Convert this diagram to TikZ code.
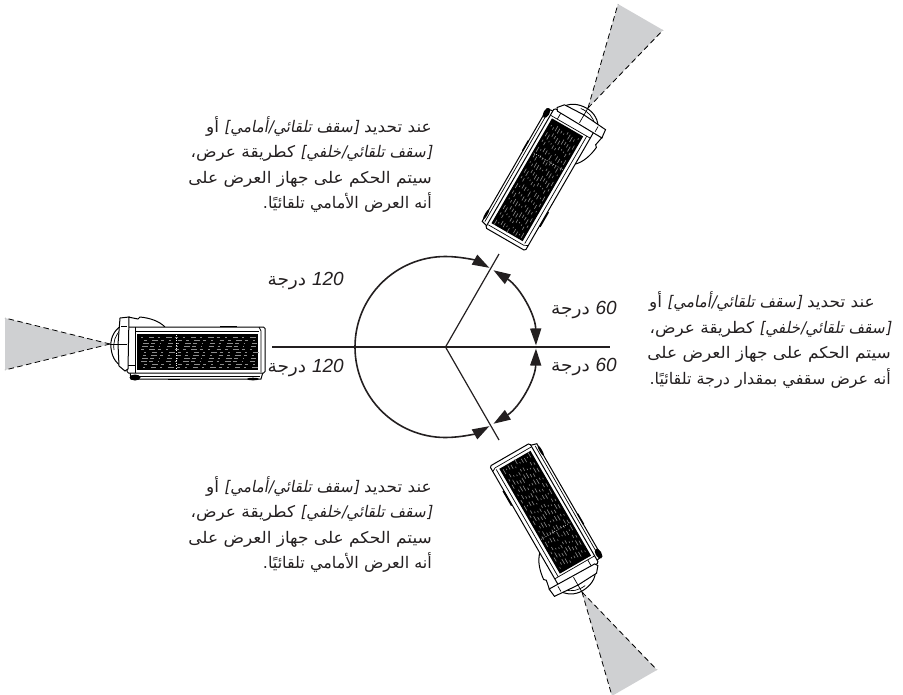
\documentclass[tikz,border=0pt]{standalone}
\usepackage{fontspec}
\usetikzlibrary{arrows.meta}
\TeXXeTstate=1
\setmainfont{Liberation Sans}
\newfontfamily\arabicfont[Script=Arabic,FakeStretch=1.06]{DejaVu Sans}
\newfontfamily\arabicnarrow[Script=Arabic,FakeStretch=1.0]{DejaVu Sans}
\newfontfamily\arabicit[Script=Arabic,FakeStretch=0.95,FakeSlant=0.18]{DejaVu Sans}
\newcommand{\arl}[1]{\beginR #1\endR}
\newcommand{\arn}[1]{{\arabicnarrow\fontsize{16}{25.5}\selectfont\beginR #1\endR}}
\newcommand{\ait}[1]{{\arabicit\fontsize{16}{25.5}\selectfont #1}}
\newcommand{\deglabel}[1]{\arabicfont\beginR\beginL{\normalfont\itshape\fontsize{19}{20}\selectfont #1}\endL\ درجة\endR}
\definecolor{cone}{HTML}{CFD0D2}
\definecolor{ink}{HTML}{231F20}
\tikzset{
 note/.style={font=\arabicfont\fontsize{16}{25.6}\selectfont,align=right,anchor=east,inner sep=0pt,text=ink},
 anglabel/.style={font=\fontsize{17.5}{20}\selectfont,inner sep=0pt,text=ink},
 axis/.style={draw=ink,line width=1.2pt},
 arcline/.style={draw=ink,line width=1.6pt},
 tip/.style={-{Triangle[length=17pt,width=11pt]}},
 bitip/.style={{Triangle[length=17pt,width=11pt]}-{Triangle[length=17pt,width=11pt]}},
 shell/.style={draw=black,line width=1pt,fill=white},
 thin shell/.style={draw=black,line width=.7pt},
 ray/.style={draw=black,line width=.8pt,dash pattern=on 5.5pt off 3.5pt},
 gmark/.style={draw=black!45,line width=.6pt},
}
\newcommand{\projector}{%
 % cone
 \fill[cone] (110,-344) -- (5,-318) -- (5,-370) -- cycle;
 \draw[ray] (110,-344) -- (5,-318);
 \draw[ray] (110,-344) -- (5,-370);
 % lens dome
 \draw[shell] (121,-326) .. controls (113,-331) and (110,-340) .. (111,-348) .. controls (112,-358) and (117,-366) .. (127,-368);
 \draw[thin shell] (121,-330) .. controls (115,-335) and (113,-342) .. (114,-350);
 % top bump
 \draw[shell] (128,-317) -- (138,-319) -- (140,-317) .. controls (150,-318) and (159,-321) .. (165,-327);
 % base
 \draw[shell] (130,-372) -- (131,-379) -- (261,-379) -- (263,-372);
 \draw[thin shell] (133,-376.5) -- (260,-376.5);
 \fill[black] (135,-377.5) ellipse (5.5 and 3);
 \fill[black] (253,-379) ellipse (6 and 1.3);
 \fill[black] (168,-380) rectangle (180,-378.5);
 % body
 \draw[shell,rounded corners=1.5pt] (127,-327) -- (265,-327) -- (265,-373) -- (127,-373) -- cycle;
 \fill[black] (220,-325.5) rectangle (237,-327);
 \draw[thin shell] (135,-327) -- (135,-373);
 \draw[thin shell] (127,-365) -- (135,-365);
 \draw[thin shell] (259,-327) -- (261,-331) -- (261,-372);
 \draw[thin shell] (135,-331) -- (259,-331);
 % front plate
 \draw[shell] (120,-318) -- (129,-317) -- (128,-369) -- (125,-371) -- (119,-366) -- (118,-344) -- cycle;
 \draw[thin shell] (110,-344) -- (127,-344);
 \draw[thin shell] (121,-326) -- (127,-326);
 % grille
 \fill[black] (137,-334) rectangle (258,-370);
 \foreach \r in {0,...,10}{
  \foreach \k in {0,...,13}{
    \pgfmathsetmacro{\xs}{141+8.4*\k+mod(\r*3,4)}
    \pgfmathsetmacro{\wd}{1.5+mod(\r*\r+3*\k,5)}
    \pgfmathsetmacro{\ys}{337+3*\r}
    \draw[gmark] (\xs,-\ys) -- ++(\wd,0);
  }
 }
 \draw[draw=white,line width=.4pt,dash pattern=on 1pt off 1.5pt] (176,-335) -- (176,-369);
}
\begin{document}
\begin{tikzpicture}[x=1pt,y=1pt]
\useasboundingbox (0,-694) rectangle (903,0);
% projectors
\begin{scope}\projector\end{scope}
\begin{scope}[shift={(588,-108)},rotate=-120,shift={(-110,344)}]\projector\end{scope}
\begin{scope}[shift={(582,-592)},rotate=120,shift={(-110,344)}]\projector\end{scope}
% axes
\coordinate (c) at (445.5,-347);
\coordinate (w) at (272,-347);
\coordinate (e) at (610,-347);
\coordinate (ne) at (499,-254);
\coordinate (se) at (499,-440);
\draw[axis] (w) -- (e);
\draw[axis] (ne) -- (c) -- (se);
% arcs
\draw[arcline,tip] (c) ++(180:90.5) arc[start angle=180,end angle=61,radius=90.5];
\draw[arcline,tip] (c) ++(180:90.5) arc[start angle=180,end angle=299,radius=90.5];
\draw[arcline,bitip] (c) ++(58:90.5) arc[start angle=58,end angle=1,radius=90.5];
\draw[arcline,bitip] (c) ++(-58:90.5) arc[start angle=-58,end angle=-1,radius=90.5];
% angle labels
\node[anglabel,anchor=east] (l1) at (344,-281) {\deglabel{120}};
\node[anglabel,anchor=east] (l2) at (344,-368) {\deglabel{120}};
\node[anglabel,anchor=east] (l3) at (617,-310) {\deglabel{60}};
\node[anglabel,anchor=east] (l4) at (617,-367) {\deglabel{60}};
% notes
\node[note] (n1) at (432,-164.5) {\arl{عند تحديد \ait{[سقف تلقائي/أمامي]} أو}\\
\arl{\ait{[سقف تلقائي/خلفي]} كطريقة عرض،}\\
\arl{سيتم الحكم على جهاز العرض على}\\
\arn{أنه العرض الأمامي تلقائيًا.}};
\node[note] (n2) at (891,-340) {\arl{عند تحديد \ait{[سقف تلقائي/أمامي]} أو}\hspace*{16pt}\\
\arl{\ait{[سقف تلقائي/خلفي]} كطريقة عرض،}\\
\arl{سيتم الحكم على جهاز العرض على}\hspace*{3pt}\\
\arn{أنه عرض سقفي بمقدار درجة تلقائيًا.}};
\node[note] (n3) at (432,-524.5) {\arl{عند تحديد \ait{[سقف تلقائي/أمامي]} أو}\\
\arl{\ait{[سقف تلقائي/خلفي]} كطريقة عرض،}\\
\arl{سيتم الحكم على جهاز العرض على}\\
\arn{أنه العرض الأمامي تلقائيًا.}};
\end{tikzpicture}
\end{document}
